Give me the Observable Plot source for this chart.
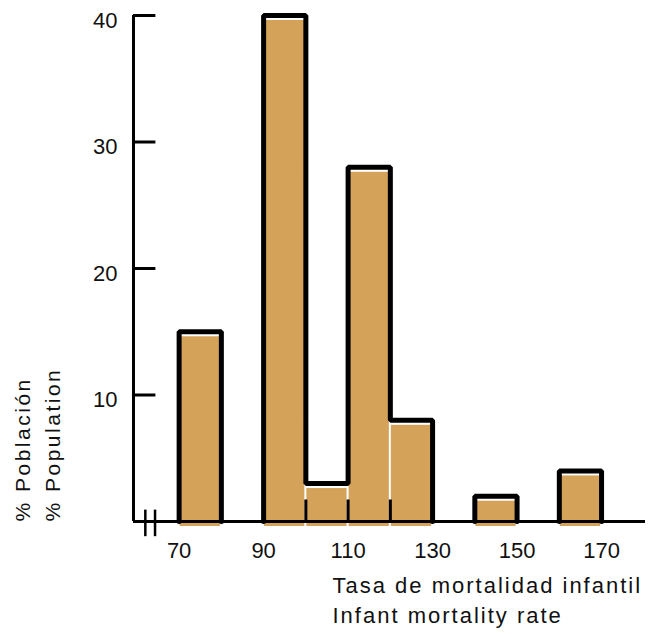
<!DOCTYPE html>
<html>
<head>
<meta charset="utf-8">
<script src="https://cdn.jsdelivr.net/npm/d3@7"></script>
<script src="https://cdn.jsdelivr.net/npm/@observablehq/plot@0.6"></script>
<style>
  html, body { margin: 0; padding: 0; background: #fff; }
  svg { display: block; }
</style>
</head>
<body>
<div id="chart"></div>
<script>
// Histogram bins (infant mortality rate) and % of population
const binStart = [70, 90, 100, 110, 120, 140, 160];
const binEnd   = [80, 100, 110, 120, 130, 150, 170];
const pctPop   = [15, 40, 3, 28, 8, 2, 4];
const xTicks = [70, 90, 110, 130, 150, 170];
const xTickLabels = ["70", "90", "110", "130", "150", "170"];
const yTicks = [10, 20, 30, 40];
const innerDividers = [100, 110, 120];
const axisBreak = [62, 64.3];
const xTitle = ["Tasa de mortalidad infantil", "Infant mortality rate"];
const yTitle = ["% Población", "% Population"];

const bars = binStart.map((s, i) => ({x1: s, x2: binEnd[i], y: pctPop[i]}));

// Outline of contiguous groups of bars
const outlines = [];
let g = -1, prevEnd = null;
bars.forEach((b, i) => {
  if (b.x1 !== prevEnd) { g++; outlines.push({g, x: b.x1, y: 0}); }
  outlines.push({g, x: b.x1, y: b.y});
  outlines.push({g, x: b.x2, y: b.y});
  prevEnd = b.x2;
  const next = bars[i + 1];
  if (!next || next.x1 !== b.x2) outlines.push({g, x: b.x2, y: 0});
});

const X0 = 59.2, X1 = 180.4;
const font = "'Liberation Sans', Arial, Helvetica, sans-serif";

const chart = Plot.plot({
  width: 654,
  height: 636,
  marginLeft: 133,
  marginRight: 9,
  marginTop: 15,
  marginBottom: 115,
  style: {fontFamily: font, background: "white"},
  x: {domain: [X0, X1], axis: null},
  y: {domain: [0, 40], axis: null},
  marks: [
    // fill (slightly misregistered, as in print)
    Plot.rectY(bars, {x1: "x1", x2: "x2", y: "y", fill: "#d5a25a", dy: 5, insetLeft: 1, insetRight: 1}),
    // axes
    Plot.ruleY([0], {x1: X0, x2: X1, stroke: "black", strokeWidth: 3}),
    Plot.ruleX([X0], {y1: 0, y2: 40, stroke: "black", strokeWidth: 3}),
    Plot.ruleY(yTicks, {y: d => d, x1: X0, x2: X0 + 5.3, stroke: "black", strokeWidth: 3}),
    Plot.ruleX(axisBreak, {x: d => d, y1: -1.2, y2: 0.9, stroke: "black", strokeWidth: 2.5}),
    // outlines
    Plot.line(outlines, {x: "x", y: "y", z: "g", stroke: "black", strokeWidth: 5, strokeLinejoin: "miter", curve: "linear"}),
    Plot.ruleX(innerDividers, {x: d => d, y1: 0, y2: 1.7, stroke: "black", strokeWidth: 3}),
    // tick labels
    Plot.text(yTicks, {y: d => d, frameAnchor: "left", dx: -16, dy: 5, textAnchor: "end", text: d => String(d), fontSize: 22, fill: "#111"}),
    Plot.text(xTicks, {x: d => d, frameAnchor: "bottom", dy: 36, text: (d, i) => xTickLabels[i], fontSize: 22, fill: "#111"}),
    // titles
    Plot.text([xTitle[0]], {frameAnchor: "bottom-left", dx: 199, dy: 71, textAnchor: "start", text: d => d, fontSize: 22, fill: "#111"}),
    Plot.text([xTitle[1]], {frameAnchor: "bottom-left", dx: 199, dy: 101, textAnchor: "start", text: d => d, fontSize: 22, fill: "#111"}),
    Plot.text([yTitle[0]], {frameAnchor: "bottom-left", dx: -104, dy: 0, rotate: -90, textAnchor: "start", text: d => d, fontSize: 21, fill: "#111"}),
    Plot.text([yTitle[1]], {frameAnchor: "bottom-left", dx: -74, dy: 0, rotate: -90, textAnchor: "start", text: d => d, fontSize: 21, fill: "#111"})
  ]
});
d3.select(chart).selectAll("text")
  .filter(function () { return xTitle.includes(this.textContent); })
  .attr("letter-spacing", "2px");
d3.select(chart).selectAll("text")
  .filter(function () { return yTitle.includes(this.textContent); })
  .attr("letter-spacing", "2.5px");
document.getElementById("chart").appendChild(chart);
</script>
</body>
</html>
